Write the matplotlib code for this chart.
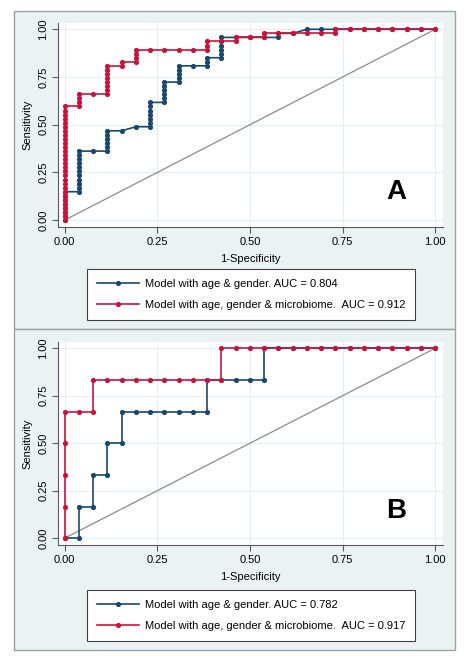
import matplotlib.pyplot as plt
from matplotlib.patches import Rectangle
from matplotlib.lines import Line2D

plt.rcParams['font.family'] = ['Liberation Sans', 'DejaVu Sans']

# ROC points as counts: false positives (of 26 controls) and true positives
n_neg_a, n_pos_a = 26, 47
a_base_fp = [0, 0, 0, 0, 0, 0, 0, 0, 1, 1, 1, 1, 1, 1, 1, 1, 1, 1, 1, 2, 3, 3, 3, 3, 3, 3, 4, 5,
             6, 6, 6, 6, 6, 6, 6, 7, 7, 7, 7, 7, 7, 8, 8, 8, 8, 8, 9, 10, 10, 10,
             11, 11, 11, 11, 11, 11, 12, 13, 14, 15, 15, 16, 17, 18, 19, 20, 21, 22, 23, 24, 25, 26]
a_base_tp = [0, 1, 2, 3, 4, 5, 6, 7, 7, 8, 9, 10, 11, 12, 13, 14, 15, 16, 17, 17, 17, 18, 19, 20, 21, 22, 22, 23,
             23, 24, 25, 26, 27, 28, 29, 29, 30, 31, 32, 33, 34, 34, 35, 36, 37, 38, 38, 38, 39, 40,
             40, 41, 42, 43, 44, 45, 45, 45, 45, 45, 46, 46, 47, 47, 47, 47, 47, 47, 47, 47, 47, 47]
a_micro_fp = [0] * 29 + [1, 1, 1, 1, 2, 3, 3, 3, 3, 3, 3, 3, 3, 4, 4, 5, 5, 5, 5, 6, 7, 8, 9,
                         10, 10, 10, 11, 12, 12, 13, 14, 14, 15, 16, 17, 18, 19, 19,
                         20, 21, 22, 23, 24, 25, 26]
a_micro_tp = list(range(29)) + [28, 29, 30, 31, 31, 31, 32, 33, 34, 35, 36, 37, 38, 38, 39, 39, 40, 41, 42, 42, 42, 42, 42,
                                42, 43, 44, 44, 44, 45, 45, 45, 46, 46, 46, 46, 46, 46, 47,
                                47, 47, 47, 47, 47, 47, 47]

n_neg_b, n_pos_b = 26, 6
b_base_fp = [0, 1, 1, 2, 2, 3, 3, 4, 4, 5, 6, 7, 8, 9, 10, 10, 11, 12, 13, 14, 14,
             15, 16, 17, 18, 19, 20, 21, 22, 23, 24, 25, 26]
b_base_tp = [0, 0, 1, 1, 2, 2, 3, 3, 4, 4, 4, 4, 4, 4, 4, 5, 5, 5, 5, 5, 6,
             6, 6, 6, 6, 6, 6, 6, 6, 6, 6, 6, 6]
b_micro_fp = [0, 0, 0, 0, 0, 1, 2, 2, 3, 4, 5, 6, 7, 8, 9, 10, 11, 11,
              12, 13, 14, 15, 16, 17, 18, 19, 20, 21, 22, 23, 24, 25, 26]
b_micro_tp = [0, 1, 2, 3, 4, 4, 4, 5, 5, 5, 5, 5, 5, 5, 5, 5, 5, 6,
              6, 6, 6, 6, 6, 6, 6, 6, 6, 6, 6, 6, 6, 6, 6]

auc_a = ['0.804', '0.912']
auc_b = ['0.782', '0.917']
ticks = [0, 0.25, 0.5, 0.75, 1.0]
tick_labels = ['0.00', '0.25', '0.50', '0.75', '1.00']

blue = '#1A476F'
red = '#C8143C'
fs = 8.0

W, H = 468, 659
fig = plt.figure(figsize=(W / 100, H / 100), dpi=100)


def box(l, t, r, b):
    return [l / W, 1 - b / H, (r - l) / W, (b - t) / H]


for t, b in [(11, 329), (329, 650)]:
    fig.patches.append(Rectangle((14 / W, 1 - b / H), 441 / W, (b - t) / H, transform=fig.transFigure,
                                 facecolor='#EAF2F3', edgecolor='#A0A0A0', lw=1, zorder=-1))

panels = [
    (box(58, 23, 443, 227), a_base_fp, a_base_tp, a_micro_fp, a_micro_tp, n_neg_a, n_pos_a, 'A', auc_a, 269),
    (box(58, 342, 443, 545), b_base_fp, b_base_tp, b_micro_fp, b_micro_tp, n_neg_b, n_pos_b, 'B', auc_b, 590),
]

for pos, bfp, btp, mfp, mtp, nn, npos, letter, aucs, leg_top in panels:
    ax = fig.add_axes(pos)
    ax.set_facecolor('white')
    ax.plot([0, 1], [0, 1], color='#8C8C8C', lw=0.9, zorder=1)
    ax.plot([v / nn for v in bfp], [v / npos for v in btp], color=blue, lw=1.2,
            marker='o', ms=2.7, zorder=2)
    ax.plot([v / nn for v in mfp], [v / npos for v in mtp], color=red, lw=1.2,
            marker='o', ms=2.7, zorder=3)
    ax.set_xlim(-0.018, 1.021)
    ax.set_ylim(-0.036, 1.033)
    ax.set_xticks(ticks, tick_labels)
    ax.set_yticks(ticks, tick_labels)
    for lab in ax.get_yticklabels():
        lab.set_rotation(90)
        lab.set_va('center')
    ax.tick_params(direction='out', length=4, width=0.8, color='#5A5A5A', labelsize=fs, pad=3)
    ax.grid(color='#E6EEF0', lw=0.8)
    ax.set_axisbelow(True)
    for s in ['top', 'right']:
        ax.spines[s].set_visible(False)
    for s in ['left', 'bottom']:
        ax.spines[s].set_color('#5A5A5A')
        ax.spines[s].set_linewidth(0.8)
    ax.set_xlabel('1-Specificity', fontsize=fs, labelpad=5)
    ax.set_ylabel('Sensitivity', fontsize=fs, labelpad=4)
    ax.text(0.895, 0.145, letter, fontsize=20, fontweight='bold', ha='center', va='center')

    handles = [Line2D([], [], color=blue, lw=1.2, marker='o', ms=2.7),
               Line2D([], [], color=red, lw=1.2, marker='o', ms=2.7)]
    labels = ['Model with age & gender. AUC = ' + aucs[0],
              'Model with age, gender & microbiome.  AUC = ' + aucs[1]]
    leg = ax.legend(handles, labels, loc='upper left', mode='expand',
                    bbox_to_anchor=(86.5 / W, 1 - leg_top / H - 0.01, 328 / W, 0.01),
                    bbox_transform=fig.transFigure, fontsize=fs, numpoints=1,
                    handlelength=3.8, handletextpad=0.55, labelspacing=1.0,
                    borderpad=0.9, borderaxespad=0, fancybox=False,
                    framealpha=1, edgecolor='#404040')
    leg.get_frame().set_linewidth(0.8)

fig.savefig('out.png', dpi=100)
